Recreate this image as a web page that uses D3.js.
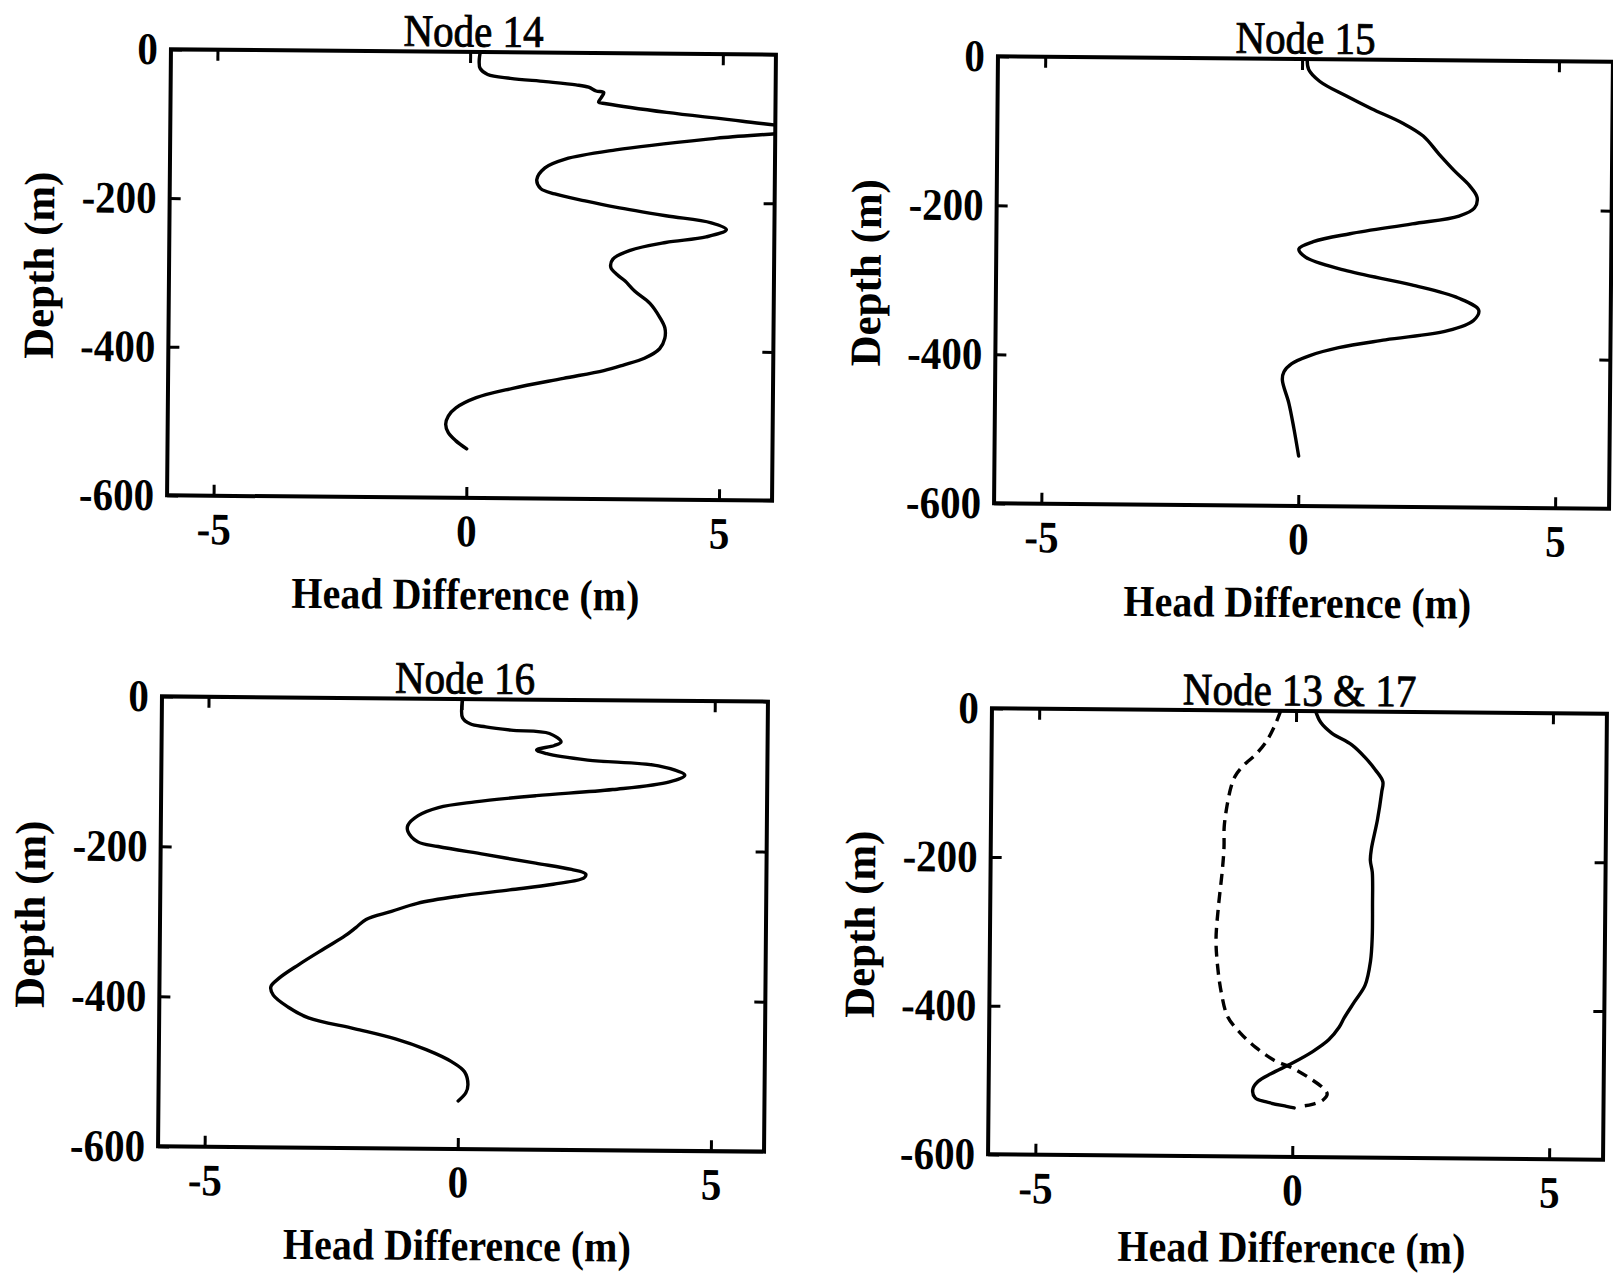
<!DOCTYPE html>
<html>
<head>
<meta charset="utf-8">
<script src="https://cdn.jsdelivr.net/npm/d3@7"></script>
<style>
  html, body { margin: 0; padding: 0; background: #fff; }
  svg { display: block; }
  .tall { transform-box: fill-box; transform-origin: center; transform: scale(1, 1.1); }
</style>
</head>
<body>
<svg id="chart" width="1613" height="1277"></svg>
<script>
// Head difference profiles versus depth, four nodes.
const panelTitles = ["Node 14", "Node 15", "Node 16", "Node 13 & 17"];
const xLabel = "Head Difference (m)";
const yLabel = "Depth (m)";
const xTicks = [-5, 0, 5];
const xTickLabels = ["-5", "0", "5"];
const yTicks = [0, -200, -400, -600];
const yTickLabels = ["0", "-200", "-400", "-600"];
const xDomain = [-5.92, 6.05];
const yDomain = [-600, 0];

// [head difference (m), depth (m)]
const node14 = [
  [0.2, 0], [0.18, -12], [0.2, -22], [0.35, -30], [0.8, -35], [1.5, -39], [2.1, -43],
  [2.35, -46], [2.5, -51], [2.65, -53], [2.6, -60], [2.55, -66], [2.7, -68], [3.9, -79],
  [5.4, -90], [6.6, -101], [4.9, -113], [2.9, -130], [1.9, -143], [1.5, -155], [1.34, -171],
  [1.42, -183], [1.7, -190], [2.3, -199], [2.9, -207], [3.9, -218], [4.8, -227], [5.1, -236],
  [4.7, -246], [3.9, -254], [3.2, -265], [2.86, -277], [2.82, -288], [2.95, -298], [3.1, -306],
  [3.3, -320], [3.6, -336], [3.8, -355], [3.9, -369], [3.9, -383], [3.8, -397], [3.5, -410],
  [3.1, -419], [2.7, -427], [1.9, -438], [0.9, -452], [0.18, -465], [-0.22, -479],
  [-0.37, -490], [-0.42, -501], [-0.37, -512], [-0.22, -523], [0, -534]
];
const node15 = [
  [0.1, 0], [0.13, -14], [0.35, -30], [0.86, -49], [1.36, -66], [1.97, -85], [2.37, -102],
  [2.68, -126], [2.98, -148], [3.28, -168], [3.43, -184], [3.38, -198], [3.08, -209],
  [2.17, -220], [0.96, -234], [0.25, -245], [-0.03, -255], [0.1, -266], [0.86, -283],
  [2.17, -302], [3.08, -319], [3.48, -335], [3.38, -349], [2.88, -363], [1.67, -376],
  [0.76, -387], [0.2, -398], [-0.15, -409], [-0.3, -420], [-0.33, -431], [-0.2, -462],
  [-0.1, -495], [0, -533]
];
const node16 = [
  [0.02, 0], [0.02, -25], [0.17, -33], [0.48, -37], [0.98, -41], [1.74, -45], [1.97, -56],
  [1.84, -61], [1.49, -67], [1.69, -72], [2.5, -80], [3.9, -87], [4.42, -99], [4.12, -108],
  [3.0, -119], [1.49, -128], [0.28, -137], [-0.44, -145], [-0.84, -156], [-1.04, -169],
  [-1.04, -177], [-0.84, -191], [-0.44, -197], [0.48, -207], [1.49, -218], [2.2, -226],
  [2.48, -232], [2.45, -237], [1.84, -246], [0.98, -254], [-0.03, -263], [-0.84, -273],
  [-1.35, -284], [-1.85, -295], [-2.05, -306], [-2.26, -317], [-2.66, -334], [-3.17, -356],
  [-3.57, -375], [-3.72, -386], [-3.67, -397], [-3.37, -413], [-2.97, -427], [-2.05, -441],
  [-1.25, -454], [-0.64, -468], [-0.13, -484], [0.12, -497], [0.19, -514], [0.15, -525],
  [0, -536]
];
const node13 = [
  [0.38, 0], [0.48, -15], [0.69, -29], [1.09, -45], [1.34, -61], [1.55, -78], [1.7, -94],
  [1.68, -108], [1.6, -146], [1.49, -184], [1.47, -200], [1.51, -216], [1.52, -260],
  [1.52, -303], [1.49, -336], [1.39, -368], [1.19, -390], [0.99, -412], [0.89, -425],
  [0.69, -442], [0.38, -458], [-0.02, -474], [-0.42, -488], [-0.68, -499], [-0.78, -510],
  [-0.73, -521], [-0.53, -526], [-0.12, -532], [0.03, -534]
];
const node17 = [
  [-0.3, 0], [-0.42, -21], [-0.58, -42], [-0.78, -59], [-1.03, -75], [-1.18, -89],
  [-1.25, -102], [-1.33, -129], [-1.38, -157], [-1.38, -184], [-1.41, -216], [-1.48, -265],
  [-1.52, -309], [-1.48, -347], [-1.41, -379], [-1.28, -412], [-1.03, -434], [-0.73, -453],
  [-0.37, -470], [-0.02, -480], [0.33, -494], [0.59, -507], [0.67, -515], [0.59, -523],
  [0.38, -529], [0.13, -532]
];

const panelSeries = [
  [{ values: node14, dashed: false }],
  [{ values: node15, dashed: false }],
  [{ values: node16, dashed: false }],
  [{ values: node13, dashed: false }, { values: node17, dashed: true }]
];

// Plot frames on the page
const frames = [
  { x0: 169, y0: 52, x1: 774, y1: 498 },
  { x0: 996, y0: 59, x1: 1611, y1: 506 },
  { x0: 160, y0: 699, x1: 766, y1: 1149 },
  { x0: 990, y0: 711, x1: 1605, y1: 1157 }
];
const tilt = 0.5;
const FONT = "'Liberation Serif', 'Times New Roman', Times, serif";

const svg = d3.select("#chart");
svg.append("rect").attr("width", 1613).attr("height", 1277).attr("fill", "#fff");
const defs = svg.append("defs");

frames.forEach((f, i) => {
  const cx = (f.x0 + f.x1) / 2, cy = (f.y0 + f.y1) / 2;
  const g = svg.append("g").attr("transform", `rotate(${tilt},${cx},${cy})`);

  const x = d3.scaleLinear().domain(xDomain).range([f.x0, f.x1]);
  const y = d3.scaleLinear().domain(yDomain).range([f.y1, f.y0]);

  defs.append("clipPath").attr("id", "clip" + i)
    .append("rect")
    .attr("x", f.x0).attr("y", f.y0)
    .attr("width", f.x1 - f.x0).attr("height", f.y1 - f.y0);

  // axes with inward ticks
  const styleAxis = sel => {
    sel.select(".domain").remove();
    sel.selectAll(".tick line").attr("stroke", "#000").attr("stroke-width", 3);
    sel.selectAll("text")
      .attr("class", "tall")
      .attr("fill", "#000")
      .style("font-family", FONT)
      .style("font-size", "41px")
      .style("font-weight", "bold");
  };

  g.append("g").attr("transform", `translate(0,${f.y1})`)
    .call(d3.axisBottom(x).tickValues(xTicks).tickSize(-11).tickPadding(18)
      .tickFormat((d, k) => xTickLabels[k]))
    .call(styleAxis);

  g.append("g").attr("transform", `translate(0,${f.y0})`)
    .call(d3.axisTop(x).tickValues(xTicks).tickSize(-11).tickFormat(""))
    .call(styleAxis);

  g.append("g").attr("transform", `translate(${f.x0},0)`)
    .call(d3.axisLeft(y).tickValues(yTicks).tickSize(-11).tickPadding(13)
      .tickFormat((d, k) => yTickLabels[k]))
    .call(styleAxis);

  g.append("g").attr("transform", `translate(${f.x1},0)`)
    .call(d3.axisRight(y).tickValues(yTicks.slice(1, 3)).tickSize(-11).tickFormat(""))
    .call(styleAxis);

  // curves
  const line = d3.line()
    .x(d => x(d[0]))
    .y(d => y(d[1]))
    .curve(d3.curveCatmullRom.alpha(0.5));

  const plot = g.append("g").attr("clip-path", `url(#clip${i})`);
  panelSeries[i].forEach(s => {
    plot.append("path")
      .attr("d", line(s.values))
      .attr("fill", "none")
      .attr("stroke", "#000")
      .attr("stroke-width", 3.4)
      .attr("stroke-linejoin", "round")
      .attr("stroke-linecap", s.dashed ? "butt" : "round")
      .attr("stroke-dasharray", s.dashed ? "11,7" : null);
  });

  // frame
  g.append("rect")
    .attr("x", f.x0).attr("y", f.y0)
    .attr("width", f.x1 - f.x0).attr("height", f.y1 - f.y0)
    .attr("fill", "none").attr("stroke", "#000").attr("stroke-width", 4);

  // title
  g.append("text")
    .attr("class", "tall")
    .attr("x", cx).attr("y", f.y0 - 7)
    .attr("text-anchor", "middle")
    .attr("stroke", "#000").attr("stroke-width", 0.8)
    .style("font-family", FONT).style("font-size", "41px")
    .text(panelTitles[i]);

  // x label
  g.append("text")
    .attr("class", "tall")
    .attr("x", x(0)).attr("y", Math.min(f.y1 + 110, 1261))
    .attr("text-anchor", "middle")
    .style("font-family", FONT).style("font-size", "40px").style("font-weight", "bold")
    .text(xLabel);

  // y label
  g.append("text")
    .attr("transform", `translate(${f.x0 - 130},${cy - 6}) rotate(-90)`)
    .attr("text-anchor", "middle")
    .attr("dominant-baseline", "central")
    .style("font-family", FONT).style("font-size", "43px").style("font-weight", "bold")
    .text(yLabel);
});
</script>
</body>
</html>
